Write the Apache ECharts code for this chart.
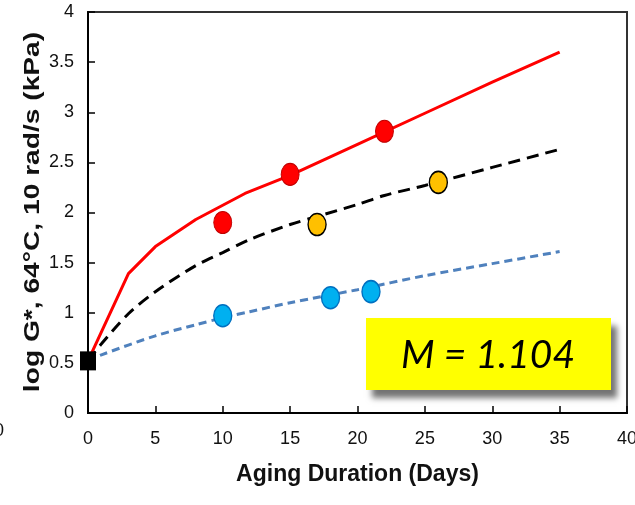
<!DOCTYPE html>
<html>
<head>
<meta charset="utf-8">
<script src="https://cdn.jsdelivr.net/npm/echarts@6/dist/echarts.min.js"></script>
<style>
  html, body { margin: 0; padding: 0; background: #fff; }
  #chart { width: 635px; height: 505px; }
</style>
</head>
<body>
<div id="chart"></div>
<script>
// fitted curves
const redFitX = [0, 3, 5, 8, 11.65, 15, 20, 25, 30, 35]
const redFitY = [0.52, 1.39, 1.66, 1.93, 2.19, 2.37, 2.68, 2.99, 3.30, 3.60]
const blackFitX = [0, 1, 3, 5, 8, 10, 12, 15, 17, 20, 22, 25, 30, 35]
const blackFitY = [0.52, 0.69, 0.99, 1.21, 1.47, 1.60, 1.73, 1.88, 1.96, 2.08, 2.17, 2.27, 2.45, 2.63]
const blueFitX = [0, 1, 5, 8, 10, 12, 15, 20, 25, 30, 35]
const blueFitY = [0.52, 0.58, 0.77, 0.88, 0.95, 1.01, 1.10, 1.23, 1.37, 1.49, 1.61]

// measured points
const redDays = [10, 15, 22]
const redVals = [1.90, 2.38, 2.81]
const yellowDays = [17, 26]
const yellowVals = [1.88, 2.30]
const blueDays = [10, 18, 21]
const blueVals = [0.97, 1.15, 1.21]
const startDay = [0]
const startVal = [0.52]

const xTicks = [0, 40, 5]
const yTicks = [0, 4, 0.5]
const mLabel = 'M = 1.104'

function pairs (xs, ys) {
  return xs.map((x, i) => [x, ys[i]])
}

let chart = echarts.init(document.getElementById('chart'))

let option = {
  animation: false,
  grid: {
    left: 88,
    right: 8,
    top: 12,
    bottom: 92,
    outerBoundsMode: 'none',
    show: true,
    borderColor: '#333',
    borderWidth: 2
  },
  xAxis: {
    type: 'value',
    min: xTicks[0],
    max: xTicks[1],
    interval: xTicks[2],
    splitLine: { show: false },
    axisLine: { lineStyle: { color: '#000', width: 2 } },
    axisTick: { inside: true, length: 7, lineStyle: { color: '#000', width: 1.5 } },
    axisLabel: { color: '#111', fontSize: 18, fontFamily: 'Liberation Sans', margin: 17 },
    name: 'Aging Duration (Days)',
    nameLocation: 'middle',
    nameGap: 50,
    nameTextStyle: { color: '#111', fontSize: 23, fontWeight: 'bold', fontFamily: 'Liberation Sans' }
  },
  yAxis: {
    type: 'value',
    min: yTicks[0],
    max: yTicks[1],
    interval: yTicks[2],
    splitLine: { show: false },
    axisLine: { lineStyle: { color: '#000', width: 2 } },
    axisTick: { inside: true, length: 7, lineStyle: { color: '#000', width: 1.5 } },
    axisLabel: { color: '#111', fontSize: 18, fontFamily: 'Liberation Sans', margin: 14 }
  },
  graphic: [
    {
      // y axis title, stretched along its length like the source
      type: 'text',
      x: 33,
      y: 212,
      rotation: Math.PI / 2,
      scaleX: 1.28,
      style: {
        text: 'log G*, 64°C, 10 rad/s (kPa)',
        font: 'bold 22px "Liberation Sans"',
        fill: '#111',
        align: 'center',
        verticalAlign: 'middle'
      }
    },
    {
      type: 'text',
      x: -6,
      y: 431,
      style: { text: '0', font: '18px "Liberation Sans"', fill: '#111', verticalAlign: 'middle' }
    },
    {
      type: 'rect',
      shape: { x: 366, y: 318, width: 245, height: 72 },
      style: {
        fill: '#ffff00',
        shadowBlur: 6,
        shadowOffsetX: 6,
        shadowOffsetY: 8,
        shadowColor: 'rgba(0,0,0,0.55)'
      },
      z: 100
    },
    {
      type: 'text',
      x: 488,
      y: 355,
      style: {
        text: mLabel,
        font: 'italic 39px Lato',
        fill: '#000',
        align: 'center',
        verticalAlign: 'middle'
      },
      z: 101
    }
  ],
  series: [
    {
      type: 'line',
      data: pairs(blueFitX, blueFitY),
      symbol: 'none',
      smooth: 0.3,
      lineStyle: { color: '#4f81bd', width: 3, type: [8, 5] },
      z: 2
    },
    {
      type: 'line',
      data: pairs(blackFitX, blackFitY),
      symbol: 'none',
      smooth: 0.3,
      lineStyle: { color: '#000', width: 3, type: [12, 7] },
      z: 2
    },
    {
      type: 'line',
      data: pairs(redFitX, redFitY),
      symbol: 'none',
      lineStyle: { color: '#ff0000', width: 3 },
      z: 2
    },
    {
      type: 'scatter',
      data: pairs(redDays, redVals),
      symbol: 'circle',
      symbolSize: [18, 22],
      itemStyle: { color: '#ff0000', borderColor: '#c00000', borderWidth: 1, opacity: 1 },
      z: 5
    },
    {
      type: 'scatter',
      data: pairs(yellowDays, yellowVals),
      symbol: 'circle',
      symbolSize: [18, 22],
      itemStyle: { color: '#ffc000', borderColor: '#000', borderWidth: 1.5, opacity: 1 },
      z: 5
    },
    {
      type: 'scatter',
      data: pairs(blueDays, blueVals),
      symbol: 'circle',
      symbolSize: [18, 22],
      itemStyle: { color: '#00b0f0', borderColor: '#0070c0', borderWidth: 1.5, opacity: 1 },
      z: 5
    },
    {
      type: 'scatter',
      data: pairs(startDay, startVal),
      symbol: 'rect',
      symbolSize: [16, 19],
      itemStyle: { color: '#000', opacity: 1 },
      z: 6
    }
  ]
}

chart.setOption(option)
</script>
</body>
</html>
